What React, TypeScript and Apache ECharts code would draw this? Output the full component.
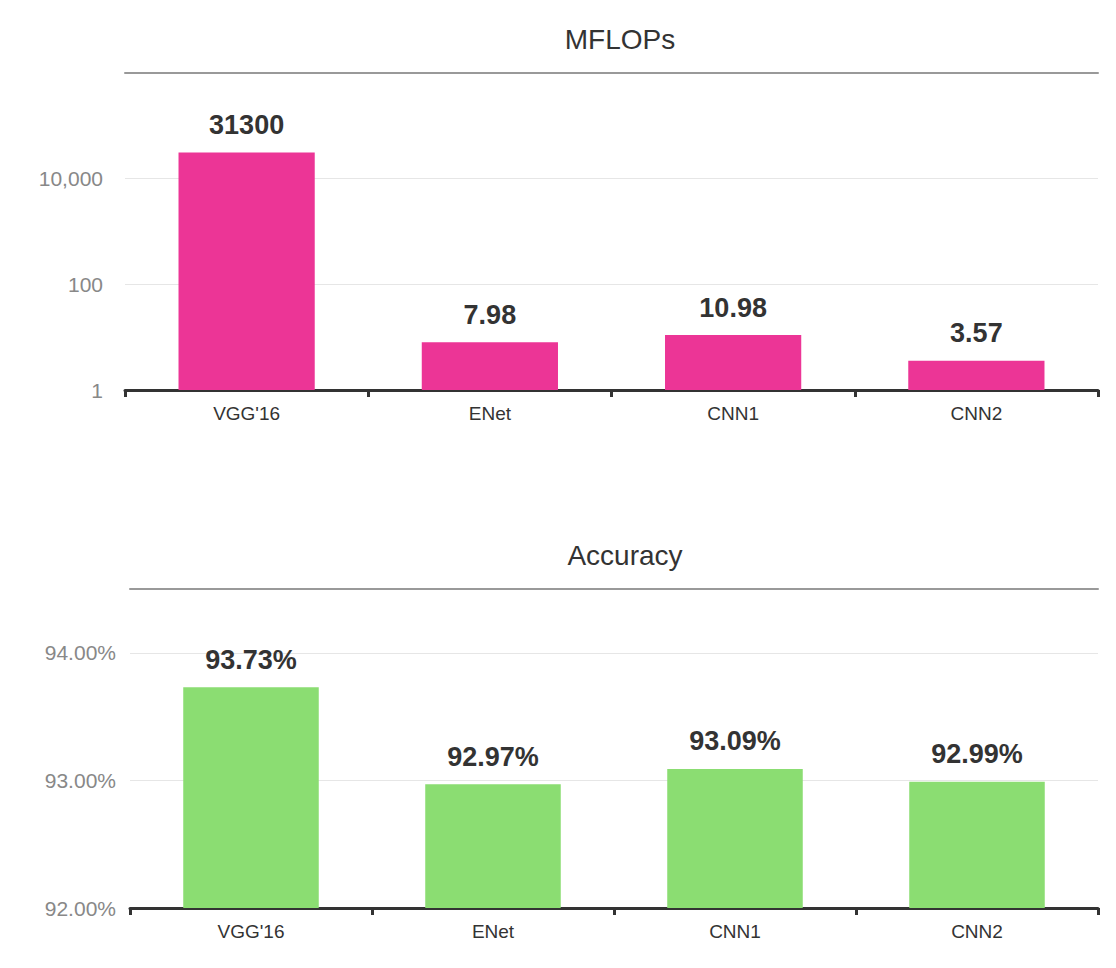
import React, { useEffect, useRef } from "react";
import * as echarts from "echarts";

const categories = ["VGG'16", "ENet", "CNN1", "CNN2"];
const mflops = [31300, 7.98, 10.98, 3.57];
const accuracy = [93.73, 92.97, 93.09, 92.99];

export default function App() {
  const ref = useRef<HTMLDivElement>(null);
  useEffect(() => {
    const chart = echarts.init(ref.current!, null, { renderer: "svg" });
    const font = "Helvetica, Arial, 'Liberation Sans', sans-serif";
    const catAxis = (gridIndex: number) => ({
      type: "category", gridIndex, data: categories,
      axisLine: { lineStyle: { color: "#333", width: 3 } },
      axisTick: { show: true, length: 7, lineStyle: { color: "#333", width: 3 } },
      axisLabel: { color: "#333", fontSize: 19, margin: 14, fontFamily: font },
    });
    const topAxis = (gridIndex: number) => ({
      type: "category", gridIndex, position: "top", data: categories,
      axisLine: { lineStyle: { color: "#999", width: 2 } },
      axisTick: { show: false }, axisLabel: { show: false },
    });
    const label = (fmt: any) => ({
      show: true, position: "top", distance: 14, color: "#333",
      fontSize: 27, fontWeight: "bold", fontFamily: font, formatter: fmt,
    });
    chart.setOption({
      animation: false,
      title: [
        { text: "MFLOPs", left: 607, top: 12, textAlign: "center",
          textStyle: { fontSize: 28, fontWeight: "normal", color: "#333", fontFamily: font } },
        { text: "Accuracy", left: 612, top: 528, textAlign: "center",
          textStyle: { fontSize: 28, fontWeight: "normal", color: "#333", fontFamily: font } },
      ],
      grid: [
        { left: 117, top: 65, width: 973, height: 317 },
        { left: 122, top: 581, width: 968, height: 319 },
      ],
      xAxis: [catAxis(0), catAxis(1), topAxis(0), topAxis(1)],
      yAxis: [
        { type: "log", gridIndex: 0, logBase: 100, min: 1, max: 1000000,
          axisLine: { show: false }, axisTick: { show: false },
          axisLabel: { color: "#888", fontSize: 21, margin: 22, fontFamily: font, showMaxLabel: false },
          splitLine: { lineStyle: { color: "#e6e6e6" } } },
        { type: "value", gridIndex: 1, min: 92, max: 94.5, interval: 1,
          axisLine: { show: false }, axisTick: { show: false },
          axisLabel: { color: "#888", fontSize: 21, margin: 14, fontFamily: font, showMaxLabel: false,
            formatter: (v: number) => v.toFixed(2) + "%" },
          splitLine: { lineStyle: { color: "#e6e6e6" } } },
      ],
      series: [
        { type: "bar", xAxisIndex: 0, yAxisIndex: 0, data: mflops, barWidth: "56%",
          itemStyle: { color: "#ec3596" }, label: label("{c}") },
        { type: "bar", xAxisIndex: 1, yAxisIndex: 1, data: accuracy, barWidth: "56%",
          itemStyle: { color: "#8bdd72" },
          label: label((p: any) => p.value.toFixed(2) + "%") },
      ],
    });
    return () => chart.dispose();
  }, []);
  return <div ref={ref} style={{ width: 1100, height: 952 }} />;
}
